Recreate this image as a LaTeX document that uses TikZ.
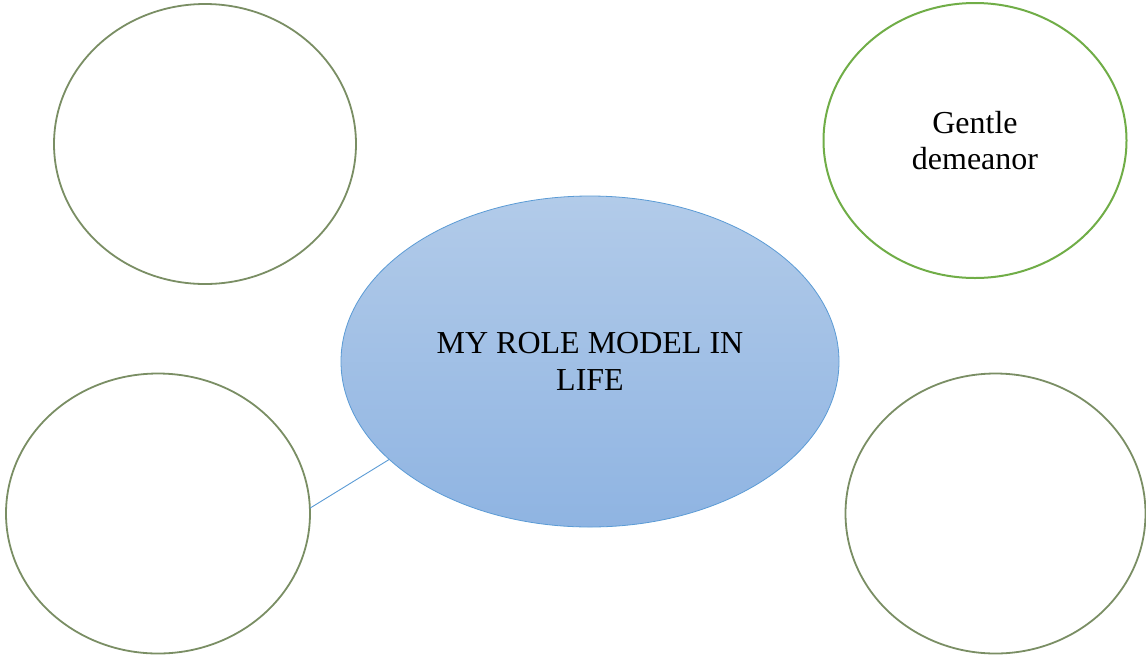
\documentclass[tikz,border=0pt]{standalone}
\usepackage{fontspec}
\setmainfont{Liberation Serif}
\usepackage{tikz}
\usetikzlibrary{shapes.geometric,positioning}
\usepackage{xcolor}
\definecolor{rmblue}{RGB}{91,155,213}
\definecolor{rmtop}{RGB}{178,203,233}
\definecolor{rmbottom}{RGB}{143,180,226}
\definecolor{rmgreen}{RGB}{112,173,71}
\definecolor{rmgrey}{RGB}{122,142,100}
\tikzstyle{hub} = [ellipse, minimum width=498pt, minimum height=331pt, inner sep=0pt, outer sep=0pt, align=center, draw=rmblue, line width=0.8pt, top color=rmtop, bottom color=rmbottom, font=\fontsize{32}{37}\selectfont]
\tikzstyle{trait} = [ellipse, inner sep=0pt, outer sep=0pt, align=center, draw=rmgrey, line width=1.8pt, fill=white, font=\fontsize{32}{36}\selectfont]
\tikzstyle{link} = [draw=rmblue, line width=0.9pt]

\begin{document}
\begin{tikzpicture}[x=1pt,y=-1pt]
\useasboundingbox (0,0) rectangle (1146,657);
% Centre
\node[hub] (role) at (590,361.5) {MY ROLE MODEL IN\\LIFE};
% Traits round it
\node[trait, minimum width=302pt, minimum height=280pt] (tl) at (205,144) {};
\node[trait, draw=rmgreen, line width=2pt, minimum width=303pt, minimum height=275pt] (tr) at (975,140.5) {Gentle\\demeanor};
\node[trait, minimum width=304pt, minimum height=280pt] (bl) at (158,513.5) {};
\node[trait, minimum width=300pt, minimum height=280pt] (br) at (995.5,513.5) {};

\draw[link] (bl.2) -- (role.206);
\end{tikzpicture}
\end{document}
